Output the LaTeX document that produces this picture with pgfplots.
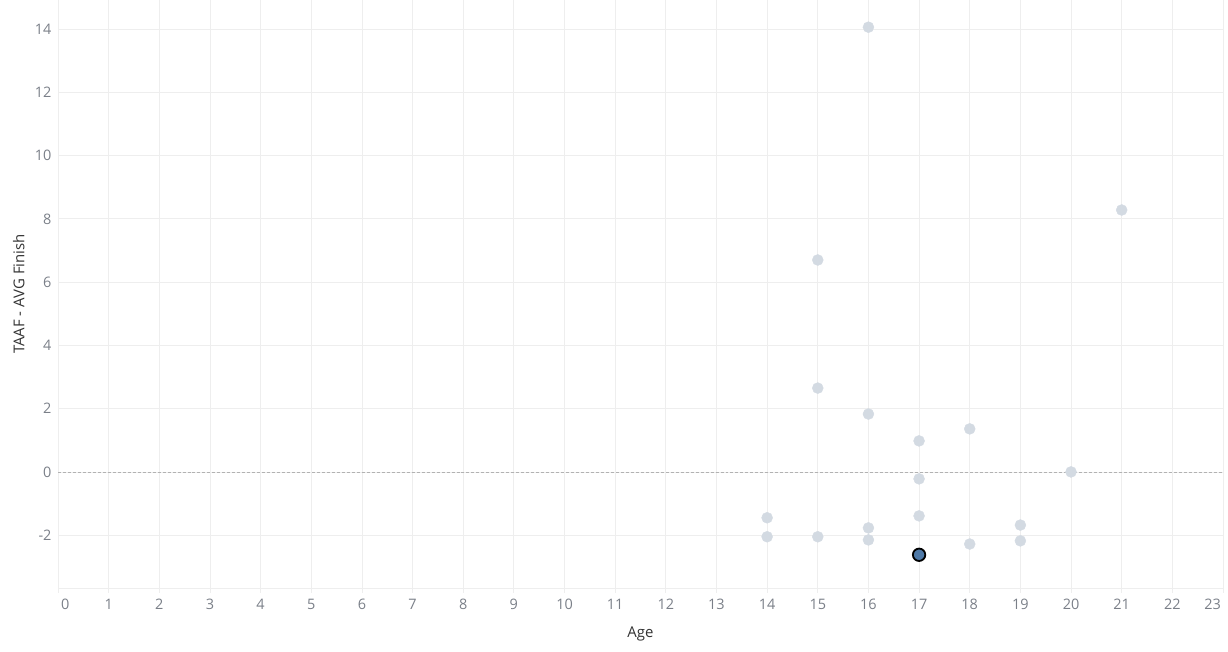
\documentclass[border=0pt]{standalone}
\usepackage{pgfplots}
\pgfplotsset{compat=1.18}
\usepackage{fontspec}
\setmainfont{Open Sans}
\definecolor{gridc}{HTML}{EEEEEE}
\definecolor{tickc}{HTML}{7A7F88}
\definecolor{labc}{HTML}{333333}
\definecolor{ptc}{HTML}{D3DAE2}
\definecolor{hlc}{HTML}{4E79A7}
\pgfplotstableread{
x y
16 14.06
21 8.28
15 6.70
15 2.65
16 1.83
17 0.98
18 1.36
20 0.00
17 -0.22
14 -1.45
17 -1.39
19 -1.68
16 -1.77
14 -2.05
15 -2.05
19 -2.18
16 -2.15
18 -2.28
}\pts
\begin{document}
\begin{tikzpicture}[x=1bp,y=1bp]
\useasboundingbox (0,0) rectangle (1228,652);
\begin{axis}[
  at={(58bp,64bp)}, anchor=south west,
  scale only axis, width=1165bp, height=588bp,
  xmin=0, xmax=23, ymin=-3.67, ymax=14.92,
  xtick={0,1,...,23}, ytick={-2,0,2,4,6,8,10,12,14},
  xticklabels={\makebox[0pt][l]{\hspace{3bp}0},1,2,3,4,5,6,7,8,9,10,11,12,13,14,15,16,17,18,19,20,21,22,\makebox[0pt][r]{23\hspace{2bp}}},
  yticklabels={-2,0,2,4,6,8,10,12,14},
  grid=major, major grid style={draw=gridc, line width=0.8bp},
  axis line style={draw=none},
  tick align=outside, major tick length=5bp,
  xtick style={draw=gridc, line width=0.8bp},
  ytick style={draw=none},
  ticklabel style={font=\fontsize{14.5}{16}\selectfont, text=tickc},
  xticklabel style={yshift=-3bp},
  yticklabel style={xshift=2bp},
  xlabel={Age}, ylabel={TAAF - AVG Finish},
  label style={font=\fontsize{15}{17}\selectfont, text=labc},
  xlabel style={yshift=-10bp},
  ylabel style={yshift=3.5bp},
  clip=false,
]
\draw[gridc, line width=0.8bp] (rel axis cs:0,0) -- (rel axis cs:1,0);
\draw[densely dashed, draw=black!30, line width=0.6bp] (axis cs:0,0) -- (axis cs:23,0);
\addplot[only marks, color=ptc, mark=*, mark size=5.5bp, mark options={solid, draw=ptc, fill=ptc}] table[x=x,y=y] {\pts};
\addplot[only marks, color=black, mark=*, mark size=6.2bp, mark options={solid, fill=hlc, draw=black, line width=1.8bp}] coordinates {(17,-2.62)};
\end{axis}
\end{tikzpicture}
\end{document}
